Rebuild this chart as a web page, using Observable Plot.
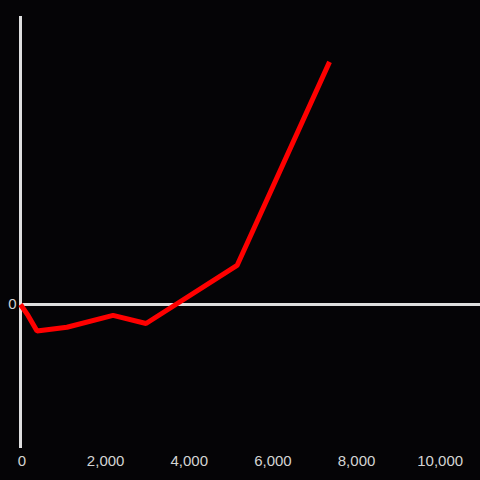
<!DOCTYPE html>
<html>
<head>
<meta charset="utf-8">
<script src="https://cdn.jsdelivr.net/npm/d3@7"></script>
<script src="https://cdn.jsdelivr.net/npm/@observablehq/plot@0.6"></script>
<style>
  html, body { margin: 0; padding: 0; background: #050406; }
  #chart { width: 480px; height: 480px; }
</style>
</head>
<body>
<div id="chart"></div>
<script>
const xValues = [0, 180, 395, 1110, 2213, 3002, 5179, 7390];
const yValues = [0, -7.6, -18.4, -15.8, -7.6, -13.2, 27.1, 168.5];
const xTicks = [0, 2000, 4000, 6000, 8000, 10000];
const yTicks = [0];

const data = xValues.map((x, i) => ({x, y: yValues[i]}));

const chart = Plot.plot({
  width: 480,
  height: 480,
  marginLeft: 20,
  marginRight: 0,
  marginTop: 16,
  marginBottom: 32,
  style: {background: "#050406", color: "#d4d4d4", fontFamily: "'Liberation Sans', Arial, sans-serif", fontSize: "15px"},
  x: {domain: [0, 11000]},
  y: {domain: [-100, 200]},
  marks: [
    Plot.axisX({ticks: xTicks, tickSize: 0, tickPadding: 7, tickFormat: d3.format(","), fontSize: 15, dx: 1.5, label: null}),
    Plot.axisY({ticks: yTicks, tickSize: 0, tickPadding: 4, fontSize: 15, label: null}),
    Plot.ruleX([0], {stroke: "#dedede", strokeWidth: 3}),
    Plot.ruleY([0], {stroke: "#dedede", strokeWidth: 3}),
    Plot.line(data, {x: "x", y: "y", stroke: "#ff0000", strokeWidth: 5, strokeLinejoin: "miter", strokeLinecap: "butt"})
  ]
});
document.getElementById("chart").appendChild(chart);
</script>
</body>
</html>
